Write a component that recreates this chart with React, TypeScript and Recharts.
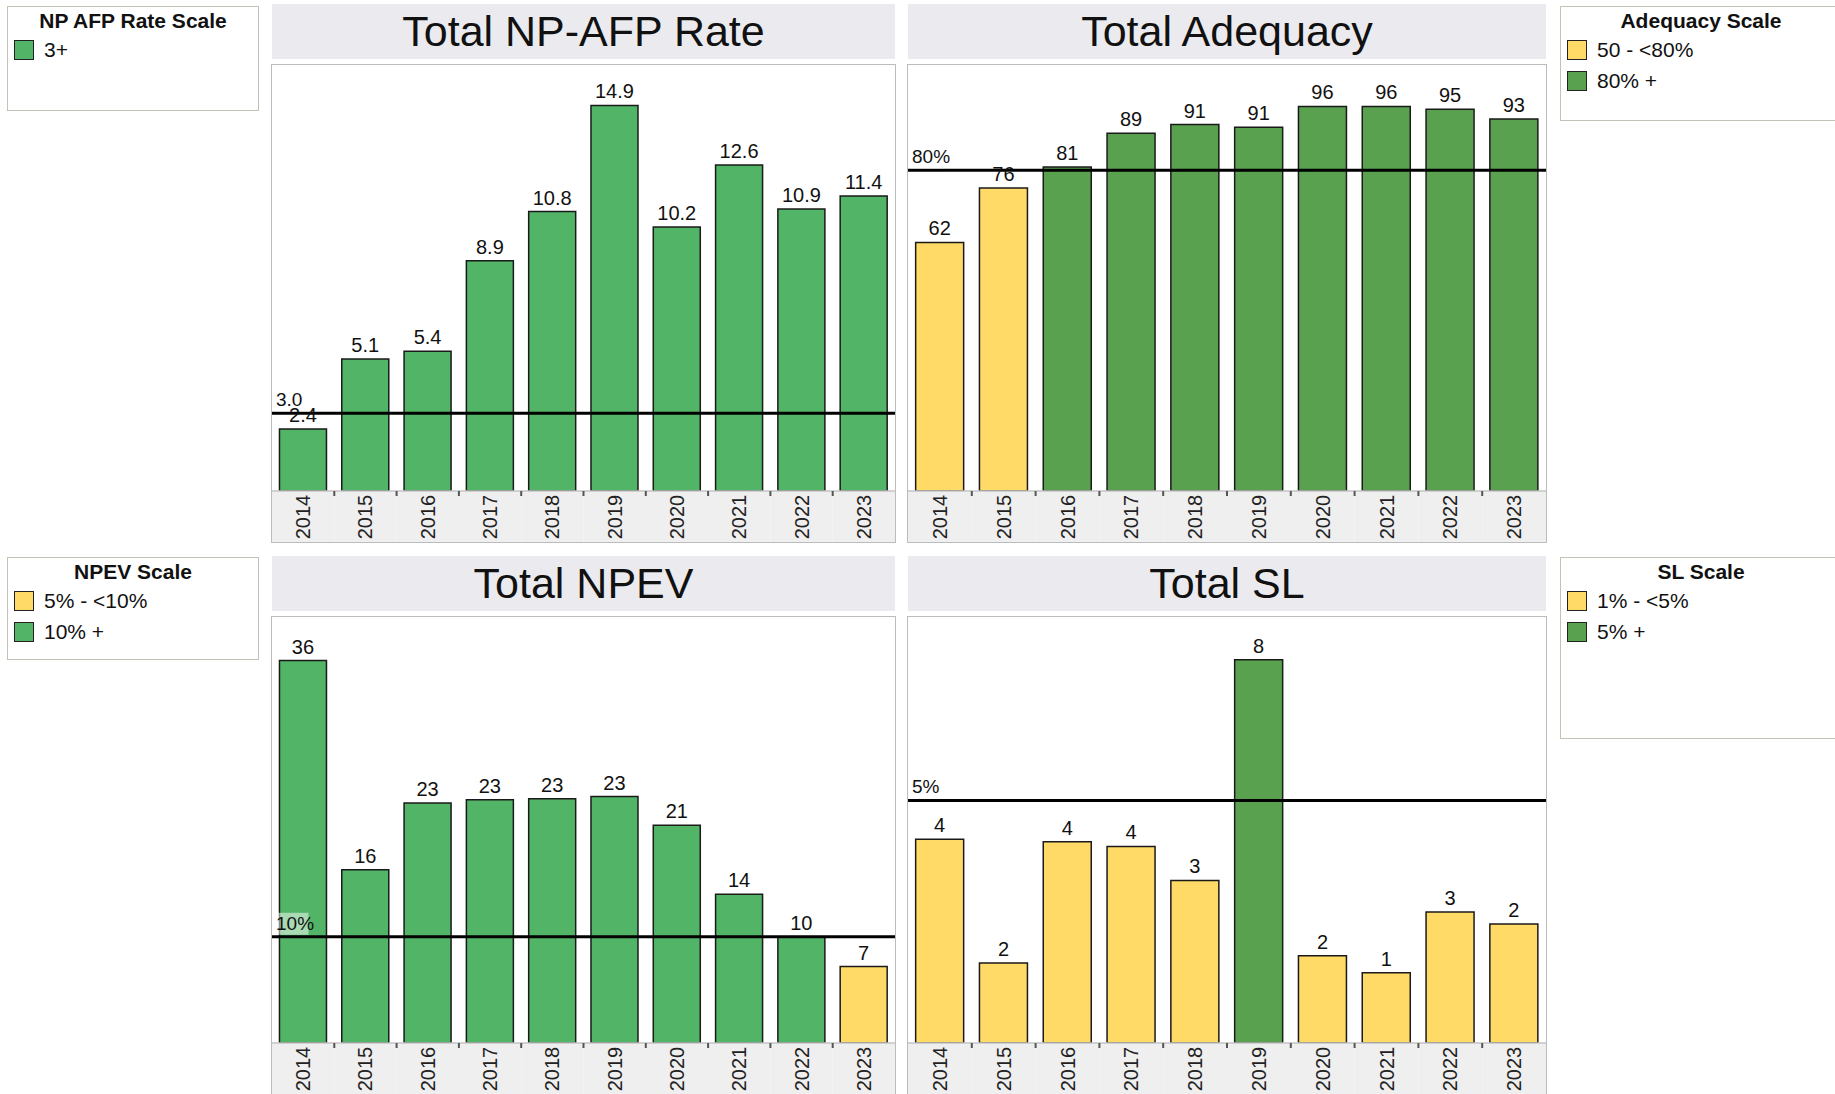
import React from 'react';
import { BarChart, Bar, XAxis, YAxis, Cell, LabelList, ReferenceLine } from 'recharts';

const years = ['2014', '2015', '2016', '2017', '2018', '2019', '2020', '2021', '2022', '2023'];
const npAfpRate = [2.4, 5.1, 5.4, 8.9, 10.8, 14.9, 10.2, 12.6, 10.9, 11.4];
const adequacy = [62, 75.6, 80.8, 89.2, 91.4, 90.7, 95.9, 95.9, 95.2, 92.8];
const npev = [36, 16.3, 22.6, 22.9, 23.0, 23.2, 20.5, 14.0, 10.0, 7.2];
const sl = [4.2, 1.65, 4.15, 4.05, 3.35, 7.9, 1.8, 1.45, 2.7, 2.45];

const npAfpThreshold = 3;
const adequacyThreshold = 80;
const npevThreshold = 10;
const slThreshold = 5;

const GREEN_LIGHT = '#52b467';
const GREEN_DARK = '#59a14f';
const YELLOW = '#ffda66';
const FONT = '"Liberation Sans", Arial, Helvetica, sans-serif';

type Row = { year: string; value: number };
const toRows = (vals: number[]): Row[] => years.map((y, i) => ({ year: y, value: vals[i] }));

const AXIS_H = 52;

function YearTick(props: any) {
  const { x, y, payload, index, bw } = props;
  const left = x - bw / 2;
  return (
    <g>
      <rect x={left} y={y} width={bw} height={AXIS_H} fill="#efefef" />
      <line x1={left} x2={left + bw} y1={y} y2={y} stroke="#c4c4c4" strokeWidth={1.5} />
      {index > 0 && <line x1={left} x2={left} y1={y} y2={y + 5} stroke="#555" strokeWidth={2} />}
      <text
        x={x}
        y={y + AXIS_H / 2}
        transform={`rotate(-90, ${x}, ${y + AXIS_H / 2})`}
        textAnchor="middle"
        dominantBaseline="central"
        fontSize={20}
        fontFamily={FONT}
        fill="#222"
      >
        {payload.value}
      </text>
    </g>
  );
}

function ThreshLabel(props: any) {
  const { viewBox, text } = props;
  const x = viewBox.x + 4;
  const y = viewBox.y;
  const w = text.length * 10.5 + 2;
  return (
    <g>
      <rect x={x - 1} y={y - 24} width={w} height={22} fill="#ffffff" fillOpacity={0.5} />
      <text x={x} y={y - 7} fontSize={19} fontFamily={FONT} fill="#111">
        {text}
      </text>
    </g>
  );
}

type PanelProps = {
  left: number;
  top: number;
  width: number;
  title: string;
  values: number[];
  domainMax: number;
  threshold: number;
  thresholdText: string;
  color: (v: number) => string;
  fmt: (v: number) => string;
};

function Panel({ left, top, width, title, values, domainMax, threshold, thresholdText, color, fmt }: PanelProps) {
  const rows = toRows(values);
  const boxTop = top + 60;
  const boxH = 479;
  const bw = width / rows.length;
  return (
    <>
      <div
        style={{
          position: 'absolute',
          left,
          top,
          width,
          height: 55,
          background: '#ebebef',
          display: 'flex',
          alignItems: 'center',
          justifyContent: 'center',
          fontFamily: FONT,
          fontSize: 43,
          color: '#111',
        }}
      >
        {title}
      </div>
      <div style={{ position: 'absolute', left, top: boxTop, width, height: boxH, background: '#fff' }}>
        <BarChart
          width={width}
          height={boxH}
          data={rows}
          margin={{ top: 0, right: 0, bottom: 0, left: 0 }}
          barCategoryGap="12%"
        >
          <XAxis
            dataKey="year"
            height={AXIS_H}
            tickSize={0}
            tickMargin={0}
            axisLine={false}
            tickLine={false}
            interval={0}
            tick={<YearTick bw={bw} />}
          />
          <YAxis hide domain={[0, domainMax]} />
          <Bar dataKey="value" isAnimationActive={false} stroke="#1a1a1a" strokeWidth={1.5}>
            {rows.map((r) => (
              <Cell key={r.year} fill={color(r.value)} />
            ))}
            <LabelList
              dataKey="value"
              position="top"
              offset={7}
              formatter={(v: any) => fmt(Number(v))}
              style={{ fontSize: 20, fontFamily: FONT, fill: '#111' }}
            />
          </Bar>
          <ReferenceLine
            y={threshold}
            stroke="#000"
            strokeWidth={3}
            isFront
            label={<ThreshLabel text={thresholdText} />}
          />
        </BarChart>
      </div>
      <div
        style={{
          position: 'absolute',
          left: left - 1,
          top: boxTop,
          width: width + 2,
          height: boxH,
          boxSizing: 'border-box',
          border: '1.5px solid #bcbcbc',
          pointerEvents: 'none',
        }}
      />
    </>
  );
}

type LegendItem = { color: string; label: string };

function LegendBox({ left, top, width, height, title, items }: { left: number; top: number; width: number; height: number; title: string; items: LegendItem[] }) {
  return (
    <div
      style={{
        position: 'absolute',
        left,
        top,
        width,
        height,
        boxSizing: 'border-box',
        border: '1.5px solid #c3c2b4',
        background: '#fff',
        fontFamily: FONT,
      }}
    >
      <div style={{ position: 'absolute', left: 0, top: 2, width: '100%', textAlign: 'center', fontWeight: 'bold', fontSize: 21, color: '#111' }}>
        {title}
      </div>
      {items.map((it, i) => (
        <div key={it.label} style={{ position: 'absolute', left: 6, top: 31 + i * 31, display: 'flex', alignItems: 'center' }}>
          <div style={{ width: 20, height: 20, boxSizing: 'border-box', background: it.color, border: '1.5px solid #222' }} />
          <span style={{ marginLeft: 10, fontSize: 21, color: '#111' }}>{it.label}</span>
        </div>
      ))}
    </div>
  );
}

export default function App() {
  return (
    <div style={{ position: 'fixed', left: 0, top: 0, width: 1835, height: 1094, overflow: 'hidden', background: '#fff' }}>
      <LegendBox left={7} top={6} width={252} height={105} title="NP AFP Rate Scale" items={[{ color: GREEN_LIGHT, label: '3+' }]} />
      <LegendBox
        left={1560}
        top={6}
        width={282}
        height={115}
        title="Adequacy Scale"
        items={[
          { color: YELLOW, label: '50 - <80%' },
          { color: GREEN_DARK, label: '80% +' },
        ]}
      />
      <LegendBox
        left={7}
        top={557}
        width={252}
        height={103}
        title="NPEV Scale"
        items={[
          { color: YELLOW, label: '5% - <10%' },
          { color: GREEN_LIGHT, label: '10% +' },
        ]}
      />
      <LegendBox
        left={1560}
        top={557}
        width={282}
        height={182}
        title="SL Scale"
        items={[
          { color: YELLOW, label: '1% - <5%' },
          { color: GREEN_DARK, label: '5% +' },
        ]}
      />
      <Panel
        left={272}
        top={4}
        width={623}
        title="Total NP-AFP Rate"
        values={npAfpRate}
        domainMax={16.5}
        threshold={npAfpThreshold}
        thresholdText="3.0"
        color={() => GREEN_LIGHT}
        fmt={(v) => v.toFixed(1)}
      />
      <Panel
        left={908}
        top={4}
        width={638}
        title="Total Adequacy"
        values={adequacy}
        domainMax={106.5}
        threshold={adequacyThreshold}
        thresholdText="80%"
        color={(v) => (v >= adequacyThreshold ? GREEN_DARK : YELLOW)}
        fmt={(v) => v.toFixed(0)}
      />
      <Panel
        left={272}
        top={556}
        width={623}
        title="Total NPEV"
        values={npev}
        domainMax={40.2}
        threshold={npevThreshold}
        thresholdText="10%"
        color={(v) => (v >= npevThreshold ? GREEN_LIGHT : YELLOW)}
        fmt={(v) => v.toFixed(0)}
      />
      <Panel
        left={908}
        top={556}
        width={638}
        title="Total SL"
        values={sl}
        domainMax={8.8}
        threshold={slThreshold}
        thresholdText="5%"
        color={(v) => (v >= slThreshold ? GREEN_DARK : YELLOW)}
        fmt={(v) => v.toFixed(0)}
      />
    </div>
  );
}
